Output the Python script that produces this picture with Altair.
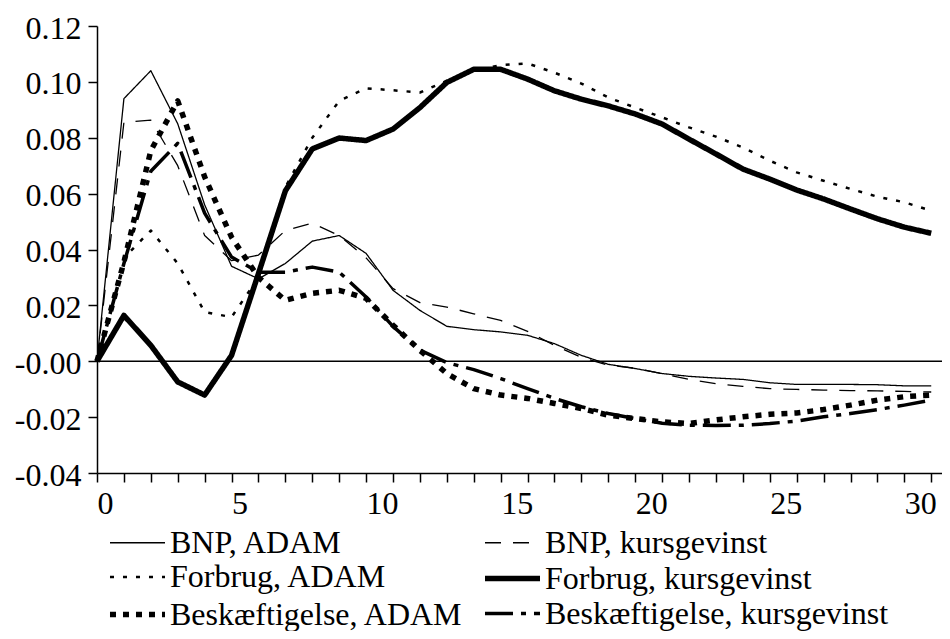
import altair as alt
import pandas as pd

periods = list(range(32))

bnp_adam = [0.0, 0.094, 0.104, 0.085, 0.056, 0.034, 0.0295, 0.035, 0.043, 0.045,
            0.0386, 0.0254, 0.0182, 0.0125, 0.0113, 0.0105, 0.0093, 0.0063, 0.0021, -0.0011,
            -0.0026, -0.0044, -0.0054, -0.006, -0.0065, -0.0077, -0.0083, -0.0083, -0.0083, -0.0084,
            -0.0088, -0.0088]
bnp_kurs = [0.0, 0.0855, 0.0863, 0.07, 0.045, 0.036, 0.038, 0.0468, 0.0494, 0.045,
            0.037, 0.026, 0.021, 0.0194, 0.017, 0.0146, 0.0107, 0.0057, 0.0014, -0.0014,
            -0.0025, -0.0045, -0.0065, -0.008, -0.009, -0.0098, -0.0101, -0.0103, -0.0105, -0.0106,
            -0.0108, -0.011]
forbrug_adam = [0.0, 0.037, 0.0468, 0.035, 0.0176, 0.0158, 0.030, 0.0623, 0.080, 0.0932,
                0.0977, 0.097, 0.0962, 0.1004, 0.104, 0.106, 0.1066, 0.1033, 0.0994, 0.0944,
                0.0908, 0.0873, 0.0837, 0.0804, 0.0765, 0.0718, 0.0676, 0.0646, 0.0617, 0.0589,
                0.0569, 0.0539]
forbrug_kurs = [0.0, 0.0164, 0.0057, -0.0074, -0.0121, 0.0021, 0.0314, 0.061, 0.076, 0.0799,
                0.079, 0.0831, 0.0908, 0.0998, 0.1045, 0.1045, 0.101, 0.0968, 0.0938, 0.0914,
                0.0885, 0.0849, 0.0795, 0.0742, 0.0688, 0.0652, 0.0613, 0.0581, 0.0545, 0.051,
                0.048, 0.0458]
besk_adam = [0.0, 0.0355, 0.0754, 0.0932, 0.066, 0.0444, 0.030, 0.0218, 0.0243, 0.0254,
             0.0225, 0.0129, 0.0039, -0.0044, -0.0098, -0.0121, -0.0133, -0.0151, -0.0169, -0.0193,
             -0.0205, -0.0217, -0.0223, -0.021, -0.0199, -0.019, -0.0185, -0.0173, -0.0157, -0.0139,
             -0.0127, -0.0121]
besk_kurs = [0.0, 0.035, 0.068, 0.078, 0.053, 0.0373, 0.0319, 0.0319, 0.0337, 0.0319,
             0.023, 0.0125, 0.004, -0.0005, -0.003, -0.0062, -0.0098, -0.0133, -0.0163, -0.0187,
             -0.0205, -0.0222, -0.0229, -0.023, -0.0229, -0.0223, -0.0214, -0.0199, -0.0187, -0.0173,
             -0.0157, -0.0139]

series_names = ["BNP, ADAM", "BNP, kursgevinst", "Forbrug, ADAM",
                "Forbrug, kursgevinst", "Beskæftigelse, ADAM", "Beskæftigelse, kursgevinst"]
series_values = [bnp_adam, bnp_kurs, forbrug_adam, forbrug_kurs, besk_adam, besk_kurs]

y_ticks = [-0.04, -0.02, 0.0, 0.02, 0.04, 0.06, 0.08, 0.10, 0.12]
x_ticks = list(range(32))
zero_line = [0.0]

rows = []
for name, vals in zip(series_names, series_values):
    for t, v in zip(periods, vals):
        rows.append({"t": t, "v": v, "serie": name})
df = pd.DataFrame(rows)

dashes = [[1, 0], [16, 12], [4, 9], [1, 0], [6, 7], [28, 8, 5, 8]]
widths = [1.3, 1.3, 2.5, 5.5, 5.5, 3.5]

FONT = "Liberation Serif, 'Times New Roman', Times, 'DejaVu Serif', serif"

x_enc = alt.X("t:Q",
              scale=alt.Scale(domain=[0, 31.4], nice=False, zero=False),
              axis=alt.Axis(values=x_ticks, title=None, grid=False,
                            labelExpr="datum.value % 5 === 0 ? '' + datum.value : ''",
                            labelAlign="left", labelBaseline="top", labelPadding=6,
                            labelOverlap=False, labelFlush=False, labelBound=False,
                            tickSize=9))
y_enc = alt.Y("v:Q",
              scale=alt.Scale(domain=[-0.04, 0.12], nice=False, zero=False),
              axis=alt.Axis(values=y_ticks, title=None, grid=False,
                            labelExpr="datum.value <= 0 ? '-' + format(abs(datum.value), '.2f') : format(datum.value, '.2f')",
                            labelPadding=7, labelOffset=2, tickSize=9,
                            labelOverlap=False))

legend = alt.Legend(title=None, orient="none", legendX=21, legendY=499,
                    direction="horizontal",
                    columns=2, columnPadding=9, rowPadding=0, padding=0,
                    symbolType="M-1.667,0L1.667,0", symbolSize=1089,
                    symbolStrokeColor="black", labelOffset=13,
                    labelFont=FONT, labelFontSize=32, labelColor="black",
                    labelLimit=500)

lines = alt.Chart(df).mark_line(color="black", strokeCap="butt", strokeJoin="round").encode(
    x=x_enc,
    y=y_enc,
    strokeDash=alt.StrokeDash("serie:N",
                              scale=alt.Scale(domain=series_names, range=dashes),
                              legend=legend),
    strokeWidth=alt.StrokeWidth("serie:N",
                                scale=alt.Scale(type="ordinal", domain=series_names, range=widths),
                                legend=legend),
    order="t:Q",
)

rule = alt.Chart(pd.DataFrame({"v": zero_line})).mark_rule(color="black", strokeWidth=1.5).encode(
    y=y_enc
)

chart = alt.layer(rule, lines).properties(
    width=845, height=447,
    autosize="none",
    padding={"left": 89, "top": 18, "right": 0, "bottom": 158},
    background="white",
).configure_view(stroke=None).configure_axis(
    labelFont=FONT, labelFontSize=32, labelColor="black",
    domainColor="black", domainWidth=1.5, tickColor="black", tickWidth=1.5,
)

chart.save("out.html", embed_options={"renderer": "svg", "actions": False})
